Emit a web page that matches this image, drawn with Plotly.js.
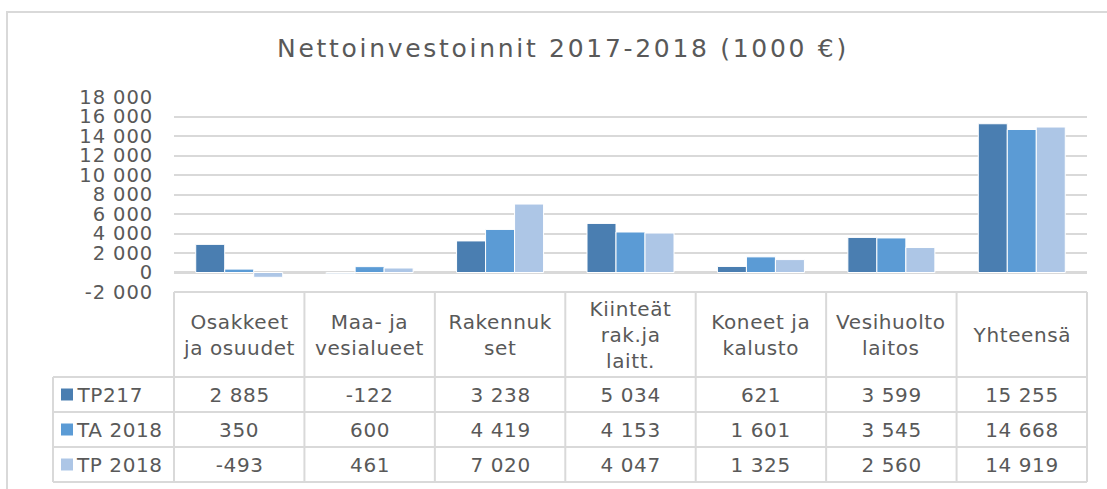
<!DOCTYPE html>
<html>
<head>
<meta charset="utf-8">
<script src="https://cdn.plot.ly/plotly-3.0.1.min.js"></script>
<style>
  html, body { margin: 0; padding: 0; background: #fff; }
  #wrap { position: relative; width: 1107px; height: 489px; overflow: hidden; }
  #frame { position: absolute; left: 6px; top: 11px; width: 1200px; height: 600px;
           border-left: 2px solid #d9d9d9; border-top: 2px solid #d9d9d9; }
  #chart { position: absolute; left: 0; top: 0; width: 1107px; height: 489px; }
  #chart .gtitle { letter-spacing: 2.7px; }
  #chart .annotation-text { letter-spacing: 0.6px; }
  #chart .ytick text { letter-spacing: 0.9px; }
</style>
</head>
<body>
<div id="wrap">
  <div id="frame"></div>
  <div id="chart"></div>
</div>
<script>
// ---- data ----
const categories = ['Osakkeet ja osuudet', 'Maa- ja vesialueet', 'Rakennukset', 'Kiinteät rak.ja laitt.', 'Koneet ja kalusto', 'Vesihuolto laitos', 'Yhteensä'];
const headerLabels = ['Osakkeet<br>ja osuudet', 'Maa- ja<br>vesialueet', 'Rakennuk<br>set', 'Kiinteät<br>rak.ja<br>laitt.', 'Koneet ja<br>kalusto', 'Vesihuolto<br>laitos', 'Yhteensä'];
const seriesNames = ['TP217', 'TA 2018', 'TP 2018'];
const tp2017 = [2885, -122, 3238, 5034, 621, 3599, 15255];
const ta2018 = [350, 600, 4419, 4153, 1601, 3545, 14668];
const tp2018 = [-493, 461, 7020, 4047, 1325, 2560, 14919];
const yTickVals = [-2000, 0, 2000, 4000, 6000, 8000, 10000, 12000, 14000, 16000, 18000];
const titleText = 'Nettoinvestoinnit 2017-2018 (1000 €)';

// ---- styling ----
const colors = ['#4a7eb1', '#5b9bd5', '#adc6e6'];
const textColor = '#595959';
const lineColor = '#d9d9d9';
const fontFam = 'DejaVu Sans, Verdana, sans-serif';

const W = 1107, H = 489;
const mL = 174, mR = 20, mT = 97, mB = 197;
const plotW = W - mL - mR, plotH = H - mT - mB;
const headerH = 85, rowH = 35;
const leftColPx = 53;

function fmt(v) {
  const s = String(Math.abs(v)).replace(/\B(?=(\d{3})+(?!\d))/g, ' ');
  return (v < 0 ? '-' : '') + s;
}
// pixel offsets below plot bottom -> paper coords
function py(pxBelow) { return -pxBelow / plotH; }
function px(pxX) { return (pxX - mL) / plotW; }

const allSeries = [tp2017, ta2018, tp2018];
const traces = allSeries.map((vals, i) => ({
  type: 'bar',
  name: seriesNames[i],
  x: categories,
  y: vals,
  marker: { color: colors[i], line: { color: '#ffffff', width: 1 } },
  hoverinfo: 'x+y+name'
}));

const shapes = [];
const annotations = [];
const nCat = categories.length;
const tableBottom = headerH + rowH * seriesNames.length;

for (let i = 0; i <= nCat; i++) {
  shapes.push({ type: 'line', xref: 'paper', yref: 'paper', x0: i / nCat, x1: i / nCat,
    y0: py(0), y1: py(tableBottom), line: { color: lineColor, width: 2 } });
}
shapes.push({ type: 'line', xref: 'paper', yref: 'paper', x0: 0, x1: 1, y0: py(0), y1: py(0),
  line: { color: lineColor, width: 2 } });
shapes.push({ type: 'line', xref: 'paper', yref: 'paper', x0: px(leftColPx), x1: px(leftColPx),
  y0: py(headerH), y1: py(tableBottom), line: { color: lineColor, width: 2 } });
for (let r = 0; r <= seriesNames.length; r++) {
  const yy = py(headerH + r * rowH);
  shapes.push({ type: 'line', xref: 'paper', yref: 'paper', x0: px(leftColPx), x1: 1, y0: yy, y1: yy,
    line: { color: lineColor, width: 2 } });
}
headerLabels.forEach((lab, i) => {
  annotations.push({ xref: 'x', yref: 'paper', x: categories[i], y: py(headerH / 2),
    xanchor: 'center', yanchor: 'middle', showarrow: false, text: lab,
    font: { family: fontFam, size: 20, color: textColor } });
});
allSeries.forEach((vals, r) => {
  const yc = py(headerH + r * rowH + rowH / 2);
  shapes.push({ type: 'rect', xref: 'paper', yref: 'paper',
    x0: px(61), x1: px(73), y0: yc - 6 / plotH, y1: yc + 6 / plotH,
    fillcolor: colors[r], line: { width: 0 } });
  annotations.push({ xref: 'paper', yref: 'paper', x: px(76), y: yc, xanchor: 'left', yanchor: 'middle',
    showarrow: false, text: seriesNames[r], font: { family: fontFam, size: 20, color: textColor } });
  vals.forEach((v, i) => {
    annotations.push({ xref: 'x', yref: 'paper', x: categories[i], y: yc, xanchor: 'center', yanchor: 'middle',
      showarrow: false, text: fmt(v), font: { family: fontFam, size: 20, color: textColor } });
  });
});

const layout = {
  width: W, height: H,
  margin: { l: mL, r: mR, t: mT, b: mB, pad: 0 },
  paper_bgcolor: 'rgba(0,0,0,0)',
  plot_bgcolor: 'rgba(0,0,0,0)',
  title: { text: titleText, x: 563 / W, xref: 'container', xanchor: 'center',
           y: 1 - 48 / H, yref: 'container', yanchor: 'middle',
           font: { family: fontFam, size: 25, color: textColor } },
  barmode: 'group', bargap: 0.333, bargroupgap: 0,
  showlegend: false,
  xaxis: { type: 'category', showticklabels: false, showgrid: false, zeroline: false, showline: false,
           range: [-0.5, nCat - 0.5], fixedrange: true },
  yaxis: { range: [-2000, 18000], tickvals: yTickVals, ticktext: yTickVals.map(fmt),
           showgrid: true, gridcolor: lineColor, gridwidth: 2,
           zeroline: true, zerolinecolor: lineColor, zerolinewidth: 3,
           showline: false, ticks: '', ticklabelstandoff: 20,
           tickfont: { family: fontFam, size: 19.5, color: textColor }, fixedrange: true },
  shapes: shapes,
  annotations: annotations
};

Plotly.newPlot('chart', traces, layout, { displayModeBar: false, staticPlot: true });
</script>
</body>
</html>
